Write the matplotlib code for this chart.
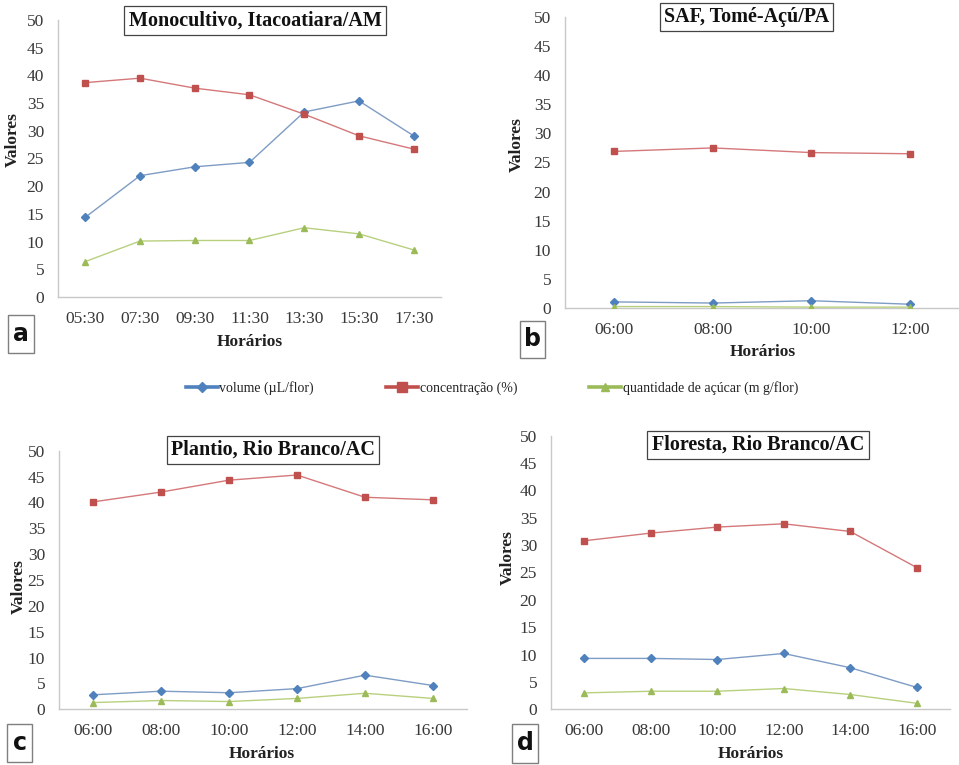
import matplotlib
matplotlib.use("Agg")
import matplotlib.pyplot as plt
from matplotlib.lines import Line2D
from matplotlib.patches import Rectangle

# ---- data -------------------------------------------------------------
hor_a = ['05:30', '07:30', '09:30', '11:30', '13:30', '15:30', '17:30']
vol_a = [14.4, 21.9, 23.5, 24.3, 33.4, 35.4, 29.1]
conc_a = [38.7, 39.5, 37.7, 36.5, 33.0, 29.1, 26.7]
acu_a = [6.4, 10.1, 10.2, 10.2, 12.5, 11.4, 8.5]

hor_b = ['06:00', '08:00', '10:00', '12:00']
vol_b = [1.1, 0.9, 1.3, 0.7]
conc_b = [26.9, 27.5, 26.7, 26.5]
acu_b = [0.3, 0.3, 0.2, 0.2]

hor_c = ['06:00', '08:00', '10:00', '12:00', '14:00', '16:00']
vol_c = [2.8, 3.5, 3.2, 4.0, 6.6, 4.6]
conc_c = [40.1, 42.0, 44.3, 45.3, 41.0, 40.5]
acu_c = [1.3, 1.7, 1.5, 2.1, 3.1, 2.1]

hor_d = ['06:00', '08:00', '10:00', '12:00', '14:00', '16:00']
vol_d = [9.3, 9.3, 9.1, 10.2, 7.6, 4.0]
conc_d = [30.8, 32.2, 33.3, 33.9, 32.5, 25.9]
acu_d = [3.0, 3.3, 3.3, 3.8, 2.7, 1.1]

titles = ['Monocultivo, Itacoatiara/AM', 'SAF, Tomé-Açú/PA',
          'Plantio, Rio Branco/AC', 'Floresta, Rio Branco/AC']
letters = ['a', 'b', 'c', 'd']
series_names = ['volume (µL/flor)', 'concentração (%)',
                'quantidade de açúcar (m g/flor)']
y_ticks = list(range(0, 55, 5))

# ---- style ------------------------------------------------------------
SERIF = 'Liberation Serif'
blue, blue_l = '#4F81BD', '#7E9CC4'
red, red_l = '#C0504D', '#D4787A'
green, green_l = '#9BBB59', '#B8D07E'
txt = '#383838'

W, H = 959, 765
fig = plt.figure(figsize=(W / 100, H / 100), dpi=100)
fig.patch.set_facecolor('white')


def fx(x):
    return x / W


def fy(y):
    return 1 - y / H


def add_axes(l, t, r, b):
    return fig.add_axes([fx(l), fy(b), (r - l) / W, (b - t) / H])


panels = [
    dict(rect=(58, 20, 441, 297), hor=hor_a, vol=vol_a, conc=conc_a, acu=acu_a,
         title=(255, 20.5), ylab=(13, 140), xlab=(250, 342), box=(8, 315, 34, 353)),
    dict(rect=(565, 16.7, 959, 308.3), hor=hor_b, vol=vol_b, conc=conc_b, acu=acu_b,
         title=(746.5, 17), ylab=(517, 145), xlab=(763, 352), box=(520, 321, 545, 358)),
    dict(rect=(59, 450.7, 467, 709.3), hor=hor_c, vol=vol_c, conc=conc_c, acu=acu_c,
         title=(273, 450), ylab=(19, 587), xlab=(262, 754), box=(7, 724, 32, 762)),
    dict(rect=(551, 435.7, 950, 709.3), hor=hor_d, vol=vol_d, conc=conc_d, acu=acu_d,
         title=(758, 445), ylab=(508, 558), xlab=(751, 754), box=(512, 724, 538, 763)),
]

for i, p in enumerate(panels):
    ax = add_axes(*p['rect'])
    x = list(range(len(p['hor'])))
    ax.plot(x, p['vol'], color=blue_l, lw=1.0, marker='D', ms=3.6,
            mfc=blue, mec=blue, zorder=3)
    ax.plot(x, p['conc'], color=red_l, lw=1.0, marker='s', ms=4.6,
            mfc=red, mec=red, zorder=3)
    ax.plot(x, p['acu'], color=green_l, lw=1.0, marker='^', ms=4.6,
            mfc=green, mec=green, zorder=3)

    ax.set_xlim(-0.5, len(x) - 0.5)
    ax.set_ylim(0, 50)
    ax.set_xticks(x)
    ax.set_xticklabels(p['hor'])
    ax.set_yticks(y_ticks)
    ax.tick_params(length=0, labelsize=12.5, labelcolor=txt, pad=10)
    for lab in ax.get_xticklabels() + ax.get_yticklabels():
        lab.set_fontfamily(SERIF)
    for s in ['top', 'right']:
        ax.spines[s].set_visible(False)
    for s in ['left', 'bottom']:
        ax.spines[s].set_color('#c8c8c8')
        ax.spines[s].set_linewidth(1.0)
    ax.set_facecolor('none')

    ax.set_ylabel('Valores', fontfamily=SERIF, fontweight='bold', fontsize=12.5,
                  color='#222222')
    ax.yaxis.set_label_coords(fx(p['ylab'][0]), fy(p['ylab'][1]),
                              transform=fig.transFigure)
    ax.yaxis.label.set_va('center')
    ax.set_xlabel('Horários', fontfamily=SERIF, fontweight='bold', fontsize=12.5,
                  color='#222222')
    ax.xaxis.set_label_coords(fx(p['xlab'][0]), fy(p['xlab'][1]),
                              transform=fig.transFigure)
    ax.xaxis.label.set_va('center')

    fig.text(fx(p['title'][0]), fy(p['title'][1]), titles[i], ha='center',
             va='center', fontfamily=SERIF, fontweight='bold', fontsize=14.5,
             color='#111111',
             bbox=dict(boxstyle='square,pad=0.22', fc='white', ec='#444444', lw=0.9))

    bl, bt, br, bb = p['box']
    fig.patches.append(Rectangle((fx(bl), fy(bb)), (br - bl) / W, (bb - bt) / H,
                                 transform=fig.transFigure, fill=False,
                                 ec='#7f7f7f', lw=1.0))
    fig.text(fx((bl + br) / 2), fy((bt + bb) / 2), letters[i], ha='center',
             va='center', fontfamily='DejaVu Sans', fontweight='bold',
             fontsize=17, color='#111111')

# ---- shared legend ------------------------------------------------------
handles = [
    Line2D([], [], color=blue, lw=2.6, marker='D', ms=5),
    Line2D([], [], color=red, lw=2.6, marker='s', ms=7),
    Line2D([], [], color=green, lw=2.6, marker='^', ms=6),
]
fig.legend(handles, series_names, loc='center', bbox_to_anchor=(fx(492), fy(388)),
           ncol=3, frameon=False, handlelength=2.3, handletextpad=0.1,
           columnspacing=5.2, prop=dict(family=SERIF, size=10),
           labelcolor='#222222')

fig.savefig('out.png', dpi=100, facecolor='white')
